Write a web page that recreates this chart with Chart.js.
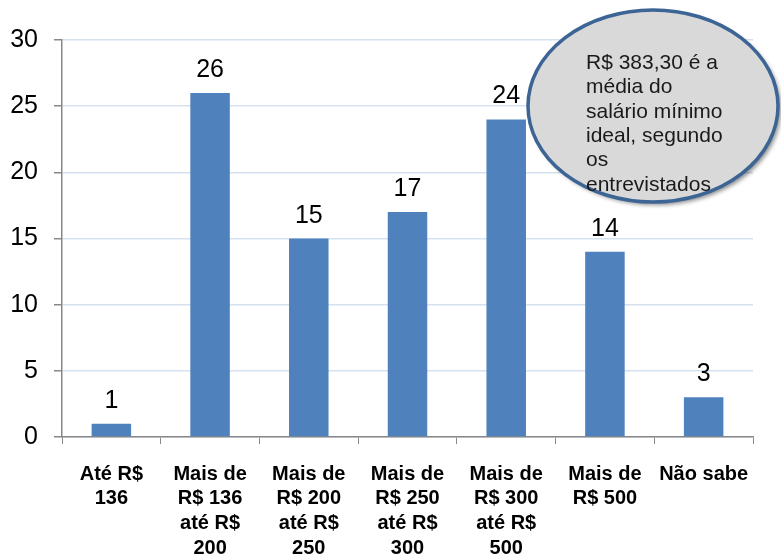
<!DOCTYPE html>
<html><head><meta charset="utf-8">
<script src="https://cdn.jsdelivr.net/npm/chart.js@4"></script>
<style>html,body{margin:0;padding:0;background:#fff}canvas{display:block}</style>
</head><body>
<canvas id="c" width="781" height="560"></canvas>
<script>
const categories = [
  ["Até R$", "136"],
  ["Mais de", "R$ 136", "até R$", "200"],
  ["Mais de", "R$ 200", "até R$", "250"],
  ["Mais de", "R$ 250", "até R$", "300"],
  ["Mais de", "R$ 300", "até R$", "500"],
  ["Mais de", "R$ 500"],
  ["Não sabe"]
];
const values = [1, 26, 15, 17, 24, 14, 3];
const yTicks = [0, 5, 10, 15, 20, 25, 30];
const noteLines = ["R$ 383,30 é a", "média do", "salário mínimo", "ideal, segundo", "os", "entrevistados"];

const FONT = "'Liberation Sans', Arial, sans-serif";

const labelPlugin = {
  id: 'labels',
  afterDatasetsDraw(chart) {
    const ctx = chart.ctx;
    const meta = chart.getDatasetMeta(0);
    ctx.save();
    ctx.font = "25px " + FONT;
    ctx.fillStyle = "#000";
    ctx.textAlign = "center";
    ctx.textBaseline = "alphabetic";
    meta.data.forEach((bar, i) => {
      ctx.fillText(String(values[i]), bar.x, bar.y - 16);
    });
    ctx.restore();
  }
};

const notePlugin = {
  id: 'note',
  afterDraw(chart) {
    const ctx = chart.ctx;
    ctx.save();
    ctx.beginPath();
    ctx.ellipse(653, 106, 125, 96, 0, 0, Math.PI * 2);
    ctx.shadowColor = "rgba(0,0,0,0.45)";
    ctx.shadowBlur = 4;
    ctx.shadowOffsetX = 3;
    ctx.shadowOffsetY = 3;
    ctx.fillStyle = "#D9D9D9";
    ctx.fill();
    ctx.shadowColor = "transparent";
    ctx.lineWidth = 3.5;
    ctx.strokeStyle = "#3C6494";
    ctx.stroke();
    ctx.fillStyle = "#1a1a1a";
    ctx.font = "21px " + FONT;
    ctx.textAlign = "left";
    ctx.textBaseline = "middle";
    noteLines.forEach((t, i) => {
      ctx.fillText(t, 586, 63 + i * 24.4);
    });
    ctx.restore();
  }
};

new Chart(document.getElementById('c'), {
  type: 'bar',
  data: {
    labels: categories,
    datasets: [{
      data: values,
      backgroundColor: '#4F81BD',
      borderWidth: 0,
      barPercentage: 0.4,
      categoryPercentage: 1.0
    }]
  },
  options: {
    responsive: false,
    animation: false,
    devicePixelRatio: 1,
    layout: { padding: { top: 40, right: 28, left: 0, bottom: 0 } },
    plugins: { legend: { display: false }, tooltip: { enabled: false } },
    scales: {
      x: {
        grid: { display: true, drawOnChartArea: false, offset: true, tickLength: 7, color: '#888', tickColor: '#888' },
        border: { display: true, color: '#888', width: 1.5 },
        ticks: {
          font: { family: FONT, size: 20, weight: 'bold', lineHeight: 1.23 },
          color: '#000',
          padding: 18,
          maxRotation: 0,
          autoSkip: false
        },
        afterFit(s) { s.height = 123; }
      },
      y: {
        min: 0, max: 30,
        afterBuildTicks(s) { s.ticks = yTicks.map(v => ({ value: v })); },
        grid: { color: '#D6E1EF', lineWidth: 1.5, tickLength: 8, tickColor: '#888' },
        border: { display: true, color: '#888', width: 1.5 },
        ticks: {
          font: { family: FONT, size: 25 },
          color: '#000',
          padding: 16
        },
        afterFit(s) { s.width = 62; }
      }
    }
  },
  plugins: [labelPlugin, notePlugin]
});
</script>
</body></html>
